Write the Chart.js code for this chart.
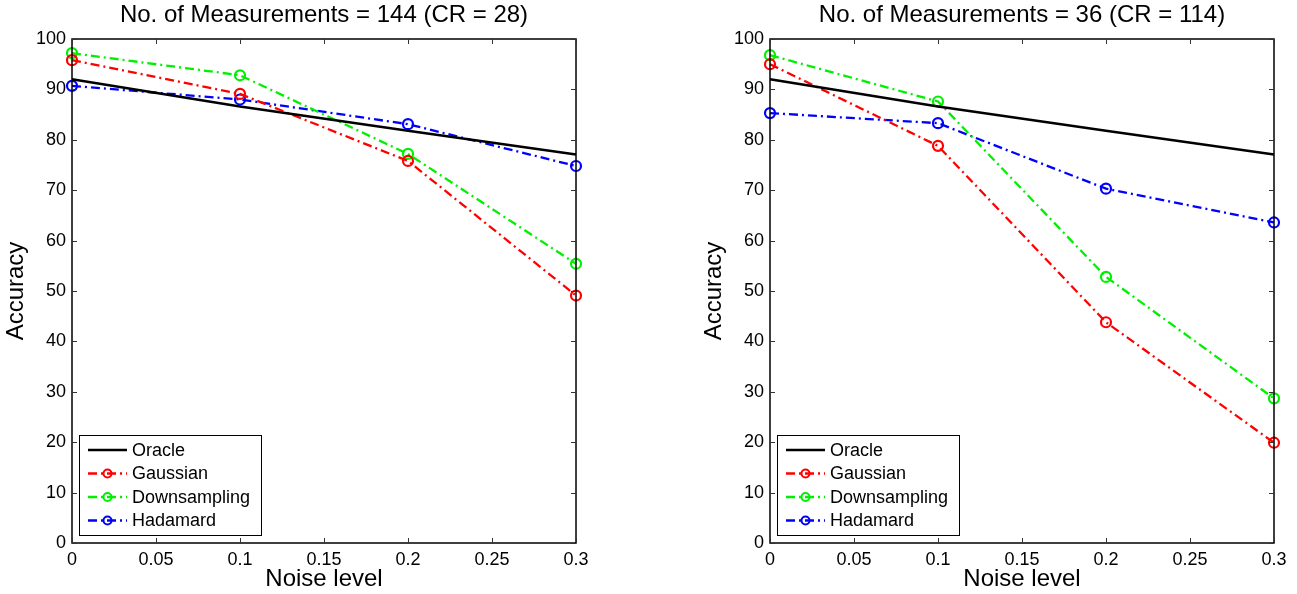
<!DOCTYPE html>
<html>
<head>
<meta charset="utf-8">
<script src="https://cdn.jsdelivr.net/npm/chart.js@4/dist/chart.umd.min.js"></script>
<style>
  body { margin: 0; background: #fff; }
  .box { position: absolute; top: 0; height: 594px; }
</style>
</head>
<body>
<div class="box" style="left:0; width:620px;"><canvas id="left"></canvas></div>
<div class="box" style="left:698px; width:599px;"><canvas id="right"></canvas></div>
<script>
// data
const noiseLevels = [0, 0.1, 0.2, 0.3];
const oracle = [92.0, 86.6, 81.8, 77.1];

const gaussian144 = [95.8, 89.1, 75.8, 49.1];
const downsampling144 = [97.2, 92.8, 77.2, 55.4];
const hadamard144 = [90.7, 88.0, 83.1, 74.8];

const gaussian36 = [95.0, 78.8, 43.8, 19.9];
const downsampling36 = [96.8, 87.6, 52.8, 28.7];
const hadamard36 = [85.3, 83.3, 70.3, 63.6];

const xTicks = [0, 0.05, 0.1, 0.15, 0.2, 0.25, 0.3];
const xTickLabels = ['0', '0.05', '0.1', '0.15', '0.2', '0.25', '0.3'];
const yTicks = [0, 10, 20, 30, 40, 50, 60, 70, 80, 90, 100];

const FONT = '"Liberation Sans", Arial, Helvetica, sans-serif';
const DASHDOT = [9, 4, 2, 4];

function pts(ys) {
    return noiseLevels.map((x, i) => ({ x: x, y: ys[i] }));
}

function series(label, ys, color) {
    return {
        label: label,
        data: pts(ys),
        borderColor: color,
        backgroundColor: 'transparent',
        borderWidth: 2.3,
        borderDash: DASHDOT,
        pointRadius: 5,
        pointBorderWidth: 2.2,
        pointBorderColor: color,
        pointBackgroundColor: 'transparent',
        clip: false,
        order: 1
    };
}

// frame, inward ticks, title and legend in the matlab style
const matlabLook = {
    id: 'matlabLook',
    afterDatasetsDraw(chart, args, opts) {
        const ctx = chart.ctx;
        const a = chart.chartArea;
        const xs = chart.scales.x, ys = chart.scales.y;
        ctx.save();
        ctx.strokeStyle = '#000';
        ctx.lineWidth = 1.5;
        ctx.strokeRect(a.left, a.top, a.right - a.left, a.bottom - a.top);
        ctx.lineWidth = 1;
        ctx.strokeStyle = '#333';
        ctx.beginPath();
        xTicks.forEach(v => {
            const px = Math.round(xs.getPixelForValue(v)) + 0.5;
            ctx.moveTo(px, a.bottom); ctx.lineTo(px, a.bottom - 5);
            ctx.moveTo(px, a.top); ctx.lineTo(px, a.top + 5);
        });
        yTicks.forEach(v => {
            const py = Math.round(ys.getPixelForValue(v)) + 0.5;
            ctx.moveTo(a.left, py); ctx.lineTo(a.left + 5, py);
            ctx.moveTo(a.right, py); ctx.lineTo(a.right - 5, py);
        });
        ctx.stroke();

        // title centred over the plot
        ctx.fillStyle = '#000';
        ctx.font = '24px ' + FONT;
        ctx.textAlign = 'center';
        ctx.textBaseline = 'middle';
        ctx.fillText(opts.text, (a.left + a.right) / 2, 15);

        // legend box, bottom left inside the plot
        const lx = a.left + 7, ly = a.bottom - 108, lw = 182, lh = 100;
        ctx.fillStyle = '#fff';
        ctx.fillRect(lx, ly, lw, lh);
        ctx.strokeStyle = '#000';
        ctx.lineWidth = 1;
        ctx.strokeRect(lx + 0.5, ly + 0.5, lw, lh);
        ctx.font = '18px ' + FONT;
        ctx.textAlign = 'left';
        chart.data.datasets.forEach((ds, i) => {
            const cy = ly + 15 + i * 23.5;
            ctx.strokeStyle = ds.borderColor;
            ctx.lineWidth = ds.borderWidth;
            ctx.setLineDash(ds.borderDash || []);
            ctx.beginPath();
            ctx.moveTo(lx + 9, cy); ctx.lineTo(lx + 48, cy);
            ctx.stroke();
            ctx.setLineDash([]);
            if (ds.pointRadius > 0) {
                ctx.lineWidth = 2;
                ctx.beginPath();
                ctx.arc(lx + 28.5, cy, 4, 0, Math.PI * 2);
                ctx.stroke();
            }
            ctx.fillStyle = '#000';
            ctx.fillText(ds.label, lx + 53, cy + 1);
        });
        ctx.restore();
    }
};

function makeChart(id, title, gauss, down, hada, padRight) {
    const ctx = document.getElementById(id).getContext('2d');
    return new Chart(ctx, {
        type: 'line',
        data: {
            datasets: [
                {
                    label: 'Oracle',
                    data: pts(oracle),
                    borderColor: '#000',
                    borderWidth: 2.6,
                    pointRadius: 0,
                    clip: false,
                    order: 0
                },
                series('Gaussian', gauss, '#ff0000'),
                series('Downsampling', down, '#00f000'),
                series('Hadamard', hada, '#0000ff')
            ]
        },
        options: {
            responsive: true,
            maintainAspectRatio: false,
            animation: false,
            layout: { padding: { top: 39, right: padRight, bottom: 0, left: 0 } },
            plugins: {
                legend: { display: false },
                tooltip: { enabled: false },
                matlabLook: { text: title }
            },
            scales: {
                x: {
                    type: 'linear',
                    min: 0,
                    max: 0.3,
                    afterBuildTicks: s => { s.ticks = xTicks.map(v => ({ value: v })); },
                    afterFit: s => { s.height = 51; },
                    grid: { display: false, drawTicks: false },
                    border: { display: false },
                    ticks: {
                        padding: 6,
                        color: '#000',
                        font: { family: FONT, size: 18 },
                        maxRotation: 0,
                        callback: (v, i) => xTickLabels[i]
                    },
                    title: {
                        display: true,
                        text: 'Noise level',
                        color: '#000',
                        font: { family: FONT, size: 24 },
                        padding: { top: 0, bottom: 0 }
                    }
                },
                y: {
                    min: 0,
                    max: 100,
                    afterBuildTicks: s => { s.ticks = yTicks.map(v => ({ value: v })); },
                    afterFit: s => { s.width = 72; },
                    grid: { display: false, drawTicks: false },
                    border: { display: false },
                    ticks: {
                        padding: 6,
                        color: '#000',
                        font: { family: FONT, size: 18 }
                    },
                    title: {
                        display: true,
                        text: 'Accuracy',
                        color: '#000',
                        font: { family: FONT, size: 24 },
                        padding: { top: 2, bottom: 0 }
                    }
                }
            }
        },
        plugins: [matlabLook]
    });
}

makeChart('left', 'No. of Measurements = 144 (CR = 28)', gaussian144, downsampling144, hadamard144, 44);
makeChart('right', 'No. of Measurements = 36 (CR = 114)', gaussian36, downsampling36, hadamard36, 23);
</script>
</body>
</html>
